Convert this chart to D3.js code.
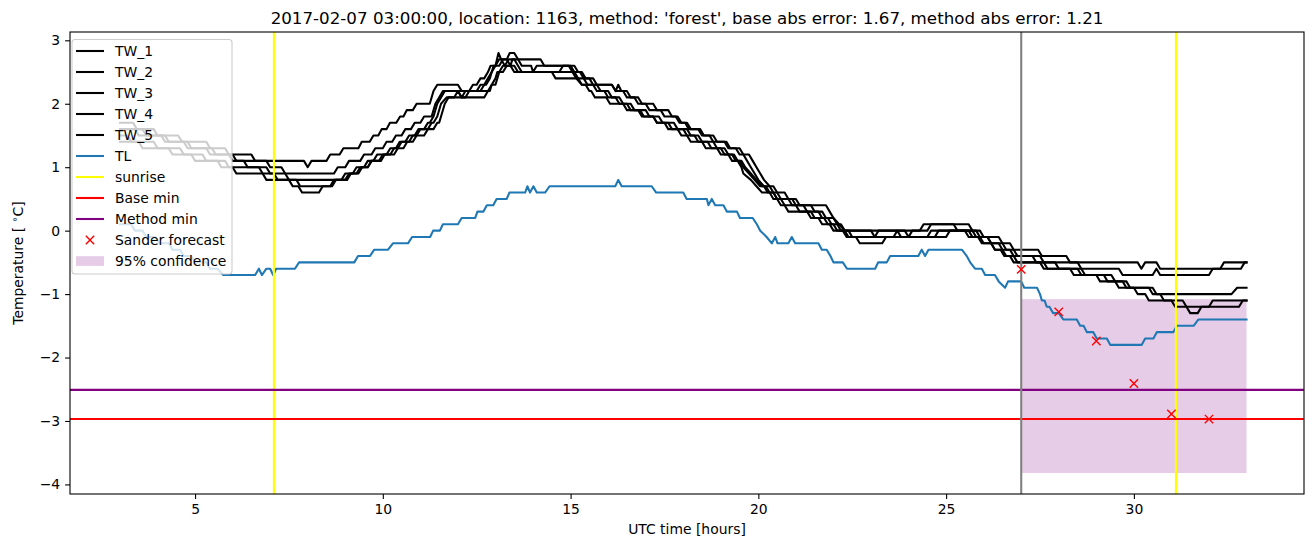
<!DOCTYPE html>
<html><head><meta charset="utf-8">
<script src="https://cdn.jsdelivr.net/npm/d3@7"></script>
<style>
html,body{margin:0;padding:0;background:#fff;}
svg{display:block;font-family:"DejaVu Sans",sans-serif;}
</style></head>
<body><svg id="c" width="1313" height="547"></svg>
<script>
const titleText = "2017-02-07 03:00:00, location: 1163, method: 'forest', base abs error: 1.67, method abs error: 1.21";
const xTicks = [5, 10, 15, 20, 25, 30];
const yTicks = [3, 2, 1, 0, -1, -2, -3, -4];

const TW_1 = [[3.0,1.7],[3.35,1.7],[3.45,1.6],[3.9,1.6],[4.0,1.5],[4.55,1.5],[4.65,1.4],[5.3,1.4],[5.4,1.3],[5.8,1.3],[5.9,1.2],[6.5,1.2],[6.6,1.1],[7.9,1.1],[8.0,1.0],[8.1,1.1],[8.5,1.1],[8.6,1.2],[8.85,1.2],[8.95,1.3],[9.35,1.3],[9.44,1.4],[9.65,1.4],[9.75,1.5],[9.88,1.5],[9.97,1.6],[10.1,1.6],[10.19,1.7],[10.36,1.7],[10.46,1.8],[10.55,1.8],[10.64,1.9],[10.8,1.9],[10.9,2.0],[11.25,2.0],[11.35,2.2],[11.45,2.3],[12.0,2.3],[12.1,2.2],[12.3,2.2],[12.4,2.3],[12.5,2.3],[12.6,2.4],[12.7,2.4],[12.8,2.5],[12.87,2.6],[13.0,2.6],[13.08,2.8],[13.15,2.7],[13.3,2.7],[13.38,2.8],[13.5,2.8],[13.6,2.7],[14.2,2.7],[14.3,2.6],[15.0,2.6],[15.1,2.5],[15.25,2.5],[15.35,2.4],[15.5,2.4],[15.6,2.3],[16.1,2.3],[16.2,2.2],[16.27,2.3],[16.35,2.2],[16.5,2.2],[16.6,2.1],[16.8,2.1],[16.9,2.0],[17.2,2.0],[17.3,1.9],[17.6,1.9],[17.7,1.8],[17.85,1.8],[17.95,1.7],[18.05,1.7],[18.15,1.6],[18.4,1.6],[18.5,1.5],[18.8,1.5],[18.9,1.4],[19.15,1.4],[19.25,1.3],[19.5,1.3],[19.6,1.2],[19.75,1.2],[19.85,1.1],[19.95,1.0],[20.05,0.9],[20.15,0.8],[20.3,0.7],[20.4,0.7],[20.5,0.6],[20.7,0.6],[20.8,0.5],[20.9,0.5],[21.0,0.4],[21.8,0.4],[21.9,0.3],[22.0,0.2],[22.15,0.1],[22.3,0.0],[24.3,0.0],[24.4,0.1],[25.6,0.1],[25.7,0.0],[25.9,0.0],[26.0,-0.1],[26.4,-0.1],[26.5,-0.2],[26.7,-0.2],[26.8,-0.3],[27.45,-0.3],[27.55,-0.4],[28.2,-0.4],[28.3,-0.5],[30.1,-0.5],[30.2,-0.6],[30.3,-0.5],[30.6,-0.5],[30.7,-0.6],[32.3,-0.6],[32.4,-0.5],[33.0,-0.5]];

const TW_2 = [[3.0,1.6],[3.6,1.6],[3.7,1.5],[4.2,1.5],[4.3,1.4],[4.8,1.4],[4.9,1.3],[5.45,1.3],[5.55,1.2],[6.0,1.2],[6.1,1.1],[6.9,1.1],[7.0,1.0],[7.3,1.0],[7.4,0.9],[8.7,0.9],[8.8,1.0],[9.0,1.0],[9.1,1.1],[9.4,1.1],[9.5,1.2],[9.7,1.2],[9.8,1.3],[10.0,1.3],[10.1,1.4],[10.25,1.4],[10.35,1.5],[10.5,1.5],[10.6,1.6],[10.75,1.6],[10.85,1.7],[11.0,1.7],[11.1,1.8],[11.3,1.8],[11.4,2.0],[11.5,2.1],[11.6,2.2],[12.0,2.2],[12.1,2.1],[12.2,2.2],[12.5,2.2],[12.6,2.3],[12.7,2.3],[12.8,2.4],[12.9,2.5],[13.0,2.6],[13.1,2.6],[13.2,2.7],[13.3,2.7],[13.4,2.6],[13.45,2.7],[13.6,2.7],[13.7,2.6],[13.95,2.6],[14.0,2.5],[14.1,2.6],[15.1,2.6],[15.2,2.5],[15.3,2.5],[15.4,2.4],[15.6,2.4],[15.7,2.3],[16.1,2.3],[16.2,2.2],[16.4,2.2],[16.5,2.1],[16.7,2.1],[16.8,2.0],[17.0,2.0],[17.1,1.9],[17.4,1.9],[17.5,1.8],[17.8,1.8],[17.9,1.7],[18.1,1.7],[18.2,1.6],[18.45,1.6],[18.55,1.5],[18.7,1.5],[18.8,1.4],[19.1,1.4],[19.2,1.3],[19.4,1.3],[19.5,1.2],[19.6,1.2],[19.7,1.1],[19.8,1.0],[19.9,0.9],[20.0,0.8],[20.15,0.7],[20.3,0.7],[20.4,0.6],[20.5,0.6],[20.6,0.5],[21.0,0.5],[21.1,0.4],[21.4,0.4],[21.5,0.3],[21.7,0.3],[21.8,0.2],[22.0,0.2],[22.1,0.1],[22.2,0.1],[22.3,0.0],[23.0,0.0],[23.1,-0.1],[23.2,0.0],[23.9,0.0],[24.0,-0.1],[24.1,0.0],[24.5,0.0],[24.6,0.1],[25.2,0.1],[25.3,0.0],[25.8,0.0],[25.9,-0.1],[26.1,-0.1],[26.2,-0.2],[26.5,-0.2],[26.6,-0.3],[26.8,-0.3],[26.9,-0.4],[27.5,-0.4],[27.6,-0.5],[28.5,-0.5],[28.6,-0.6],[29.6,-0.6],[29.7,-0.7],[30.5,-0.7],[30.6,-0.6],[30.7,-0.7],[32.0,-0.7],[32.1,-0.6],[32.85,-0.6],[32.95,-0.5],[33.0,-0.5]];

const TW_3 = [[3.0,1.5],[3.2,1.5],[3.3,1.4],[3.9,1.4],[4.0,1.3],[4.6,1.3],[4.7,1.2],[5.2,1.2],[5.3,1.1],[5.8,1.1],[5.9,1.0],[6.7,1.0],[6.8,0.9],[7.1,0.9],[7.2,0.8],[8.9,0.8],[9.0,0.9],[9.2,0.9],[9.3,1.0],[9.5,1.0],[9.6,1.1],[9.75,1.1],[9.85,1.2],[10.1,1.2],[10.2,1.3],[10.35,1.3],[10.45,1.4],[10.6,1.4],[10.7,1.5],[10.85,1.5],[10.95,1.6],[11.1,1.6],[11.2,1.7],[11.25,1.7],[11.35,1.8],[11.45,2.0],[11.55,2.1],[11.65,2.2],[12.8,2.2],[12.9,2.3],[13.0,2.3],[13.1,2.5],[13.2,2.6],[13.25,2.6],[13.35,2.7],[13.5,2.7],[13.6,2.6],[13.7,2.5],[14.7,2.5],[14.8,2.6],[14.95,2.6],[15.05,2.5],[15.15,2.4],[15.3,2.3],[15.6,2.3],[15.7,2.2],[15.9,2.2],[16.0,2.1],[16.3,2.1],[16.4,2.0],[16.5,2.0],[16.6,1.9],[16.85,1.9],[16.95,1.8],[17.2,1.8],[17.3,1.7],[17.6,1.7],[17.7,1.6],[18.0,1.6],[18.1,1.5],[18.3,1.5],[18.4,1.4],[18.65,1.4],[18.75,1.3],[19.0,1.3],[19.1,1.2],[19.3,1.2],[19.4,1.1],[19.5,1.1],[19.6,1.0],[19.75,0.9],[19.9,0.8],[20.05,0.7],[20.2,0.7],[20.3,0.6],[20.4,0.6],[20.5,0.5],[20.8,0.5],[20.9,0.4],[21.2,0.4],[21.3,0.3],[21.6,0.3],[21.7,0.2],[21.85,0.2],[21.95,0.1],[22.1,0.1],[22.2,0.0],[22.4,0.0],[22.5,-0.1],[22.6,-0.1],[22.7,-0.2],[23.3,-0.2],[23.4,-0.1],[24.5,-0.1],[24.6,0.0],[25.7,0.0],[25.8,-0.1],[26.1,-0.1],[26.2,-0.2],[26.4,-0.2],[26.5,-0.3],[26.7,-0.3],[26.8,-0.4],[27.3,-0.4],[27.4,-0.5],[27.9,-0.5],[28.0,-0.6],[28.6,-0.6],[28.7,-0.7],[29.0,-0.7],[29.1,-0.8],[29.5,-0.8],[29.6,-0.9],[30.5,-0.9],[30.6,-1.0],[32.6,-1.0],[32.75,-0.9],[33.0,-0.9]];

const TW_4 = [[3.0,1.6],[3.4,1.6],[3.5,1.5],[4.1,1.5],[4.2,1.4],[4.7,1.4],[4.8,1.3],[5.3,1.3],[5.4,1.2],[5.9,1.2],[6.0,1.1],[6.3,1.1],[6.4,1.0],[6.9,1.0],[7.0,0.9],[7.4,0.9],[7.5,0.8],[7.7,0.8],[7.8,0.7],[8.6,0.7],[8.7,0.8],[9.0,0.8],[9.1,0.9],[9.3,0.9],[9.4,1.0],[9.6,1.0],[9.7,1.1],[9.9,1.1],[10.0,1.2],[10.2,1.2],[10.3,1.3],[10.4,1.3],[10.5,1.4],[10.7,1.4],[10.8,1.5],[10.9,1.5],[11.0,1.6],[11.2,1.6],[11.3,1.7],[11.35,1.7],[11.45,1.8],[11.55,2.0],[11.7,2.1],[11.9,2.1],[12.0,2.2],[12.1,2.1],[12.2,2.1],[12.3,2.2],[12.6,2.2],[12.7,2.3],[12.75,2.3],[12.85,2.4],[12.95,2.6],[13.0,2.6],[13.1,2.7],[13.15,2.7],[13.25,2.6],[13.4,2.6],[13.5,2.5],[14.5,2.5],[14.6,2.4],[15.2,2.4],[15.3,2.3],[15.4,2.3],[15.5,2.2],[15.55,2.2],[15.65,2.1],[15.95,2.1],[16.05,2.0],[16.4,2.0],[16.5,1.9],[16.8,1.9],[16.9,1.8],[17.2,1.8],[17.3,1.7],[17.5,1.7],[17.6,1.6],[17.85,1.6],[17.95,1.5],[18.1,1.5],[18.2,1.4],[18.5,1.4],[18.6,1.3],[18.9,1.3],[19.0,1.2],[19.2,1.2],[19.3,1.1],[19.45,1.1],[19.55,1.0],[19.6,0.9],[19.8,0.8],[19.95,0.7],[20.1,0.6],[20.3,0.6],[20.4,0.5],[20.5,0.5],[20.6,0.4],[20.7,0.4],[20.8,0.3],[21.4,0.3],[21.5,0.2],[21.75,0.2],[21.85,0.1],[22.0,0.1],[22.1,0.0],[22.3,0.0],[22.4,-0.1],[23.6,-0.1],[23.7,0.0],[23.8,-0.1],[25.0,-0.1],[25.1,0.0],[25.6,0.0],[25.7,-0.1],[25.9,-0.1],[26.0,-0.2],[26.2,-0.2],[26.3,-0.3],[26.5,-0.3],[26.6,-0.4],[26.8,-0.4],[26.9,-0.5],[27.6,-0.5],[27.7,-0.6],[28.3,-0.6],[28.4,-0.7],[29.2,-0.7],[29.3,-0.8],[29.7,-0.8],[29.8,-0.9],[30.0,-0.9],[30.1,-1.0],[30.3,-1.0],[30.4,-1.1],[31.3,-1.1],[31.4,-1.2],[31.5,-1.3],[31.7,-1.3],[31.8,-1.2],[32.0,-1.2],[32.1,-1.1],[33.0,-1.1]];

const TW_5 = [[3.0,1.4],[3.5,1.4],[3.6,1.3],[4.3,1.3],[4.4,1.2],[4.9,1.2],[5.0,1.1],[5.6,1.1],[5.7,1.0],[6.0,1.0],[6.1,0.9],[6.8,0.9],[6.9,0.8],[7.5,0.8],[7.6,0.7],[7.75,0.7],[7.85,0.6],[8.3,0.6],[8.4,0.7],[8.65,0.7],[8.75,0.8],[9.05,0.8],[9.15,0.9],[9.35,0.9],[9.45,1.0],[9.6,1.0],[9.7,1.1],[9.95,1.1],[10.05,1.2],[10.3,1.2],[10.4,1.3],[10.55,1.3],[10.65,1.4],[10.8,1.4],[10.9,1.5],[11.1,1.5],[11.2,1.6],[11.35,1.6],[11.45,1.7],[11.5,1.7],[11.55,1.8],[11.65,2.0],[11.75,2.1],[12.7,2.1],[12.8,2.2],[12.85,2.2],[12.9,2.3],[13.0,2.4],[13.05,2.5],[13.2,2.5],[13.3,2.6],[13.5,2.6],[13.6,2.5],[15.1,2.5],[15.2,2.4],[15.35,2.4],[15.45,2.3],[15.7,2.3],[15.8,2.2],[16.0,2.2],[16.1,2.1],[16.2,2.1],[16.3,2.0],[16.6,2.0],[16.7,1.9],[17.0,1.9],[17.1,1.8],[17.35,1.8],[17.45,1.7],[17.75,1.7],[17.85,1.6],[18.1,1.6],[18.2,1.5],[18.4,1.5],[18.5,1.4],[18.8,1.4],[18.9,1.3],[19.1,1.3],[19.2,1.2],[19.35,1.2],[19.45,1.1],[19.55,1.1],[19.65,1.0],[19.8,0.9],[19.95,0.8],[20.1,0.7],[20.15,0.7],[20.25,0.6],[20.4,0.6],[20.5,0.5],[20.6,0.5],[20.7,0.4],[21.0,0.4],[21.1,0.3],[21.3,0.3],[21.4,0.2],[21.6,0.2],[21.7,0.1],[21.9,0.1],[22.0,0.0],[22.25,0.0],[22.35,-0.1],[24.7,-0.1],[24.8,0.0],[25.5,0.0],[25.6,-0.1],[25.85,-0.1],[25.95,-0.2],[26.2,-0.2],[26.3,-0.3],[26.45,-0.3],[26.55,-0.4],[26.7,-0.4],[26.8,-0.5],[27.5,-0.5],[27.6,-0.6],[28.5,-0.6],[28.6,-0.7],[29.4,-0.7],[29.5,-0.8],[29.8,-0.8],[29.9,-0.9],[30.4,-0.9],[30.5,-1.0],[30.7,-1.0],[30.8,-1.1],[31.0,-1.1],[31.1,-1.2],[32.8,-1.2],[32.9,-1.1],[33.0,-1.1]];

const TL = [[3.0,0.1],[3.3,0.1],[3.4,0.0],[3.6,0.0],[3.7,-0.1],[3.95,-0.1],[4.05,-0.2],[4.3,-0.2],[4.4,-0.3],[4.6,-0.3],[4.7,-0.4],[4.9,-0.4],[5.0,-0.5],[5.3,-0.5],[5.4,-0.6],[5.6,-0.6],[5.75,-0.7],[6.6,-0.7],[6.7,-0.6],[6.78,-0.7],[6.9,-0.6],[7.0,-0.6],[7.08,-0.7],[7.16,-0.6],[7.66,-0.6],[7.77,-0.5],[9.24,-0.5],[9.34,-0.4],[9.66,-0.4],[9.77,-0.3],[10.14,-0.3],[10.27,-0.2],[10.67,-0.2],[10.78,-0.1],[11.26,-0.1],[11.34,0.0],[11.52,0.0],[11.6,0.1],[12.0,0.1],[12.1,0.2],[12.46,0.2],[12.52,0.3],[12.68,0.3],[12.77,0.4],[12.94,0.4],[13.03,0.5],[13.30,0.5],[13.37,0.6],[13.79,0.6],[13.85,0.7],[13.92,0.6],[14.01,0.7],[14.1,0.6],[14.32,0.6],[14.44,0.7],[16.19,0.7],[16.27,0.8],[16.36,0.7],[17.16,0.7],[17.28,0.6],[18.0,0.6],[18.09,0.5],[18.63,0.5],[18.67,0.4],[18.76,0.5],[18.85,0.4],[19.07,0.4],[19.16,0.3],[19.43,0.3],[19.51,0.2],[19.85,0.2],[19.96,0.1],[20.05,0.0],[20.22,-0.1],[20.36,-0.2],[20.45,-0.1],[20.51,-0.2],[20.80,-0.2],[20.89,-0.1],[20.98,-0.2],[21.60,-0.2],[21.69,-0.3],[21.82,-0.3],[21.92,-0.4],[22.0,-0.5],[22.25,-0.5],[22.36,-0.6],[23.11,-0.6],[23.19,-0.5],[23.42,-0.5],[23.51,-0.4],[24.26,-0.4],[24.35,-0.3],[24.44,-0.4],[24.53,-0.3],[25.42,-0.3],[25.55,-0.4],[25.64,-0.5],[25.77,-0.6],[25.95,-0.6],[26.04,-0.7],[26.3,-0.7],[26.4,-0.8],[26.57,-0.9],[26.65,-0.8],[27.0,-0.8],[27.08,-0.9],[27.42,-0.9],[27.5,-1.0],[27.55,-1.1],[27.62,-1.1],[27.68,-1.2],[27.75,-1.2],[27.85,-1.3],[28.0,-1.3],[28.12,-1.4],[28.48,-1.4],[28.57,-1.5],[28.66,-1.5],[28.75,-1.6],[28.92,-1.6],[29.01,-1.7],[29.28,-1.7],[29.37,-1.8],[30.21,-1.8],[30.30,-1.7],[30.52,-1.7],[30.61,-1.6],[31.05,-1.6],[31.14,-1.5],[31.59,-1.5],[31.72,-1.4],[33.0,-1.4]];

const sunriseHours = [7.1, 31.12];
const forecastStart = [27.0];
const baseMin = [-2.97];
const methodMin = [-2.51];
const sanderHours = [27, 28, 29, 30, 31, 32];
const sanderValues = [-0.61, -1.28, -1.74, -2.41, -2.89, -2.97];
const confHours = [27.0, 33.0];
const confLow = [-3.82];
const confHigh = [-1.08];

const legendLabels = ["TW_1","TW_2","TW_3","TW_4","TW_5","TL","sunrise","Base min","Method min","Sander forecast","95% confidence"];

const L = 70, R = 1304, T = 32, B = 494;
const svg = d3.select("#c");
const x = d3.scaleLinear().domain([1.67, 34.53]).range([L, R]);
const y = d3.scaleLinear().domain([-4.151, 3.131]).range([B, T]);
const FS = 13.9;

svg.append("defs").append("clipPath").attr("id","clip").append("rect")
  .attr("x",L).attr("y",T).attr("width",R-L).attr("height",B-T);
const plot = svg.append("g").attr("clip-path","url(#clip)");

// confidence box
plot.append("rect")
  .attr("x", x(confHours[0])).attr("width", x(confHours[1]) - x(confHours[0]))
  .attr("y", y(confHigh[0])).attr("height", y(confLow[0]) - y(confHigh[0]))
  .attr("fill", "purple").attr("fill-opacity", 0.2);

const line = d3.line().x(d => x(d[0])).y(d => y(d[1]));
const LW = 2.08;
[TW_1, TW_2, TW_3, TW_4, TW_5].forEach(s => {
  plot.append("path").attr("d", line(s)).attr("fill","none").attr("stroke","black")
    .attr("stroke-width", LW).attr("stroke-linejoin","round").attr("stroke-linecap","square");
});
plot.append("path").attr("d", line(TL)).attr("fill","none").attr("stroke","#1f77b4")
  .attr("stroke-width", LW).attr("stroke-linejoin","round").attr("stroke-linecap","square");

sunriseHours.forEach(h => {
  plot.append("line").attr("x1", x(h)).attr("x2", x(h)).attr("y1", T).attr("y2", B)
    .attr("stroke", "yellow").attr("stroke-width", LW);
});
plot.append("line").attr("x1", L).attr("x2", R).attr("y1", y(baseMin[0])).attr("y2", y(baseMin[0]))
  .attr("stroke","red").attr("stroke-width", LW);
plot.append("line").attr("x1", L).attr("x2", R).attr("y1", y(methodMin[0])).attr("y2", y(methodMin[0]))
  .attr("stroke","purple").attr("stroke-width", LW);
plot.append("line").attr("x1", x(forecastStart[0])).attr("x2", x(forecastStart[0])).attr("y1", T).attr("y2", B)
  .attr("stroke","grey").attr("stroke-width", LW);

const M = 4.2;
sanderHours.forEach((h, i) => {
  const cx = x(h), cy = y(sanderValues[i]);
  plot.append("path").attr("d", `M${cx-M},${cy-M}L${cx+M},${cy+M}M${cx-M},${cy+M}L${cx+M},${cy-M}`)
    .attr("stroke","red").attr("stroke-width",1.4).attr("fill","none");
});

// axes
const xAxis = svg.append("g").attr("transform",`translate(0,${B})`)
  .call(d3.axisBottom(x).tickValues(xTicks).tickSize(4.9).tickPadding(4.9).tickFormat(d3.format("d")));
const yAxis = svg.append("g").attr("transform",`translate(${L},0)`)
  .call(d3.axisLeft(y).tickValues(yTicks).tickSize(4.9).tickPadding(4.9).tickFormat(d => d < 0 ? "\u2212" + Math.abs(d) : String(d)));
[xAxis, yAxis].forEach(a => {
  a.select(".domain").remove();
  a.selectAll(".tick line").attr("stroke","black").attr("stroke-width",1.1);
  a.selectAll(".tick text").attr("fill","black").attr("font-size", FS).attr("font-family","DejaVu Sans");
});
svg.append("rect").attr("x",L).attr("y",T).attr("width",R-L).attr("height",B-T)
  .attr("fill","none").attr("stroke","black").attr("stroke-width",1.1);

// title and labels
svg.append("text").attr("x",(L+R)/2).attr("y",24).attr("text-anchor","middle")
  .attr("font-size",16.7).text(titleText);
svg.append("text").attr("x",(L+R)/2).attr("y",534).attr("text-anchor","middle")
  .attr("font-size",FS).text("UTC time [hours]");
const yl = svg.append("text").attr("transform",`translate(23,${(T+B)/2}) rotate(-90)`)
  .attr("text-anchor","middle").attr("font-size",FS);
yl.append("tspan").text("Temperature [ ");
yl.append("tspan").attr("font-size",FS*0.7).attr("dy",-5).text("\u2218");
yl.append("tspan").attr("dy",5).text("C]");

// legend
const lg = svg.append("g");
lg.append("rect").attr("x",72).attr("y",39.5).attr("width",160).attr("height",234.5).attr("rx",3)
  .attr("fill","white").attr("fill-opacity",0.8).attr("stroke","#cccccc").attr("stroke-width",1.1);
const legendStyles = ["black","black","black","black","black","#1f77b4","yellow","red","purple","marker","patch"];
legendLabels.forEach((lab, i) => {
  const cy = 51 + i * 21;
  const st = legendStyles[i];
  if (st === "marker") {
    lg.append("path").attr("d",`M${90-M},${cy-M}L${90+M},${cy+M}M${90-M},${cy+M}L${90+M},${cy-M}`)
      .attr("stroke","red").attr("stroke-width",1.4);
  } else if (st === "patch") {
    lg.append("rect").attr("x",76).attr("y",cy-4.8).attr("width",28).attr("height",9.7)
      .attr("fill","purple").attr("fill-opacity",0.2);
  } else {
    lg.append("line").attr("x1",76).attr("x2",104).attr("y1",cy).attr("y2",cy)
      .attr("stroke",st).attr("stroke-width",LW);
  }
  lg.append("text").attr("x",115).attr("y",cy+5).attr("font-size",FS).text(lab);
});
</script></body></html>
